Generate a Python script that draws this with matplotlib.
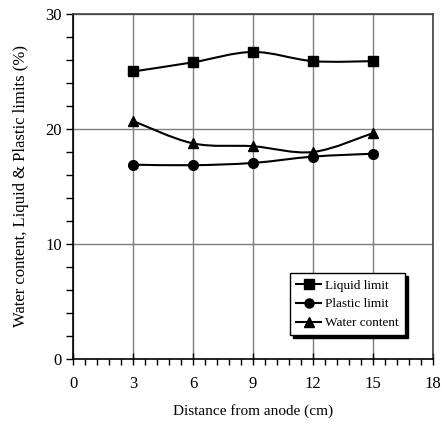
import matplotlib
matplotlib.use("Agg")
import matplotlib.pyplot as plt
import numpy as np
from matplotlib.path import Path
from matplotlib.patches import PathPatch
from matplotlib.lines import Line2D
from matplotlib.ticker import MultipleLocator

plt.rcParams['font.family'] = ['Liberation Serif', 'DejaVu Serif']

distance = [3, 6, 9, 12, 15]
liquid_limit = [25.0, 25.8, 26.7, 25.9, 25.9]
plastic_limit = [16.9, 16.85, 17.05, 17.6, 17.85]
water_content = [20.7, 18.75, 18.5, 18.0, 19.65]
series_names = ["Liquid limit", "Plastic limit", "Water content"]
x_ticks = [0, 3, 6, 9, 12, 15, 18]
y_ticks = [0, 10, 20, 30]


def smooth_path(xs, ys):
    pts = np.column_stack([xs, ys]).astype(float)
    n = len(pts)
    verts = [pts[0]]
    codes = [Path.MOVETO]
    for i in range(n - 1):
        p0 = pts[i - 1] if i > 0 else pts[i]
        p1 = pts[i]
        p2 = pts[i + 1]
        p3 = pts[i + 2] if i + 2 < n else pts[i + 1]
        c1 = p1 + (p2 - p0) / 6.0
        c2 = p2 - (p3 - p1) / 6.0
        verts += [c1, c2, p2]
        codes += [Path.CURVE4] * 3
    return Path(verts, codes)


fig = plt.figure(figsize=(4.42, 4.32), dpi=100)
ax = fig.add_axes([73 / 442, 1 - 359 / 432, 360 / 442, 345 / 432])

markers = ['s', 'o', '^']
msizes = [7, 7, 7]
handles = []
for ys, m, ms, name in zip([liquid_limit, plastic_limit, water_content], markers, msizes, series_names):
    patch = PathPatch(smooth_path(distance, ys), facecolor='none', edgecolor='black', lw=1.5, zorder=3)
    ax.add_patch(patch)
    ax.plot(distance, ys, linestyle='none', marker=m, markersize=ms, color='black', zorder=4)
    handles.append(Line2D([], [], color='black', lw=1.5, marker=m, markersize=ms - 0.5))

ax.set_xlim(0, 18)
ax.set_ylim(0, 30)
ax.set_xticks(x_ticks)
ax.set_yticks(y_ticks)
ax.xaxis.set_minor_locator(MultipleLocator(0.6))
ax.yaxis.set_minor_locator(MultipleLocator(2))
ax.tick_params(axis='x', which='major', direction='inout', length=8, width=1, pad=8, labelsize=12)
ax.tick_params(axis='x', which='minor', direction='out', length=4, width=1)
ax.tick_params(axis='y', which='major', direction='out', length=5, width=1, pad=3, labelsize=12)
ax.tick_params(axis='y', which='minor', direction='out', length=5, width=1)
ax.grid(True, which='major', color='#7f7f7f', lw=1, zorder=0)
ax.set_axisbelow(True)
for s in ['left', 'bottom']:
    ax.spines[s].set_color('black')
    ax.spines[s].set_linewidth(1.2)
for s in ['top', 'right']:
    ax.spines[s].set_color('#404040')
    ax.spines[s].set_linewidth(1.2)

ax.set_xlabel("Distance from anode (cm)", fontsize=11, labelpad=9)
ax.set_ylabel("Water content, Liquid & Plastic limits (%)", fontsize=12, labelpad=12)

leg = ax.legend(handles, series_names, loc='lower right', bbox_to_anchor=(0.94, 0.05),
                fontsize=9.5, frameon=True, fancybox=False, shadow={'color': 'black', 'alpha': 1},
                handlelength=1.9, handletextpad=0.3, borderpad=0.45, labelspacing=0.5)
leg.get_frame().set_edgecolor('black')
leg.get_frame().set_linewidth(1)
leg.get_frame().set_alpha(1)

fig.savefig("out.png", dpi=100)
